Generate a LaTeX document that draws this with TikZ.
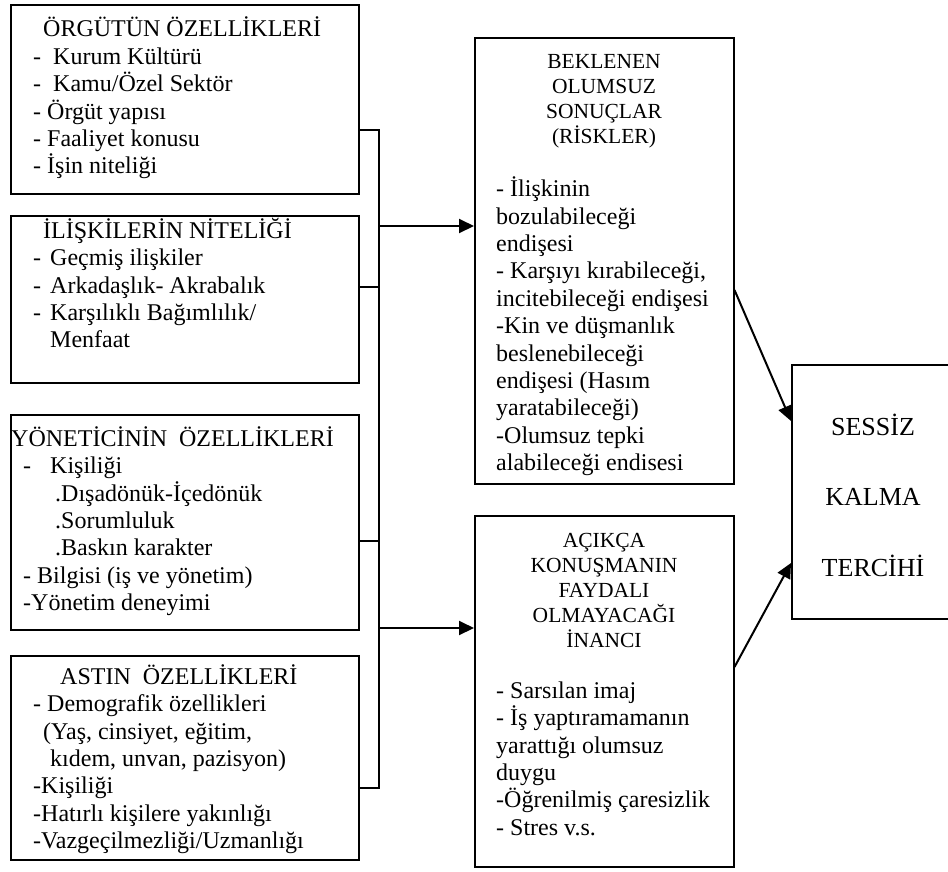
\documentclass[tikz,border=0pt]{standalone}
\usepackage{fontspec}
\setmainfont{Liberation Serif}
\usetikzlibrary{arrows.meta}
\newcommand\mystrut[1]{\rule{0pt}{#1pt}}
\begin{document}
\begin{tikzpicture}[x=1pt,y=-1pt,
  box/.style={draw, line width=1.5pt, inner sep=0pt, anchor=north west},
  conn/.style={line width=2pt},
  arr/.style={line width=2pt, -{Triangle[length=15pt,width=14pt]}},
  txt/.style={inner sep=0pt, anchor=north west, align=left, font=\fontsize{24}{27.4}\selectfont},
  hdr/.style={inner sep=0pt, anchor=north, align=center, font=\fontsize{21.5}{25}\selectfont},
  big/.style={inner sep=0pt, anchor=north, align=center, font=\fontsize{26}{70.5}\selectfont}]
\fill[white] (0,0) rectangle (948,871);
\useasboundingbox (0,0) rectangle (948,871);

% boxes
\node[box, minimum width=348pt, minimum height=189pt] (b1) at (10,4) {};
\node[box, minimum width=348pt, minimum height=167pt] (b2) at (10,215) {};
\node[box, minimum width=348pt, minimum height=215pt] (b3) at (10,414) {};
\node[box, minimum width=348pt, minimum height=204pt] (b4) at (10,655) {};
\node[box, minimum width=259pt, minimum height=446pt] (b5) at (474,37) {};
\node[box, minimum width=259pt, minimum height=351pt] (b6) at (474,515) {};
\node[box, minimum width=164pt, minimum height=254pt] (b7) at (791,364) {};

% texts
\node[txt] (t1) at (33,14.7) {\mystrut{22}\hspace*{10pt}ÖRGÜTÜN ÖZELLİKLERİ\\
-\hspace{12pt}Kurum Kültürü\\
-\hspace{12pt}Kamu/Özel Sektör\\
- Örgüt yapısı\\
- Faaliyet konusu\\
- İşin niteliği};

\node[txt] (t2) at (33,216) {\mystrut{22}\hspace*{10pt}İLİŞKİLERİN NİTELİĞİ\\
-\hspace{9pt}Geçmiş ilişkiler\\
-\hspace{9pt}Arkadaşlık- Akrabalık\\
-\hspace{9pt}Karşılıklı Bağımlılık/\\
\hspace*{17pt}Menfaat};

\node[txt] (t3) at (11,424) {\mystrut{22}YÖNETİCİNİN\ \ ÖZELLİKLERİ\\
\hspace*{12pt}-\hspace{19pt}Kişiliği\\
\hspace*{44pt}.Dışadönük-İçedönük\\
\hspace*{44pt}.Sorumluluk\\
\hspace*{44pt}.Baskın karakter\\
\hspace*{12pt}- Bilgisi (iş ve yönetim)\\
\hspace*{12pt}-Yönetim deneyimi};

\node[txt] (t4) at (33,662) {\mystrut{22}\hspace*{27pt}ASTIN\ \ ÖZELLİKLERİ\\
- Demografik özellikleri\\
\hspace*{10pt}(Yaş, cinsiyet, eğitim,\\
\hspace*{17pt}kıdem, unvan, pazisyon)\\
-Kişiliği\\
-Hatırlı kişilere yakınlığı\\
-Vazgeçilmezliği/Uzmanlığı};

\node[hdr] (h5) at (604,48) {\mystrut{20}BEKLENEN\\OLUMSUZ\\SONUÇLAR\\(RİSKLER)};
\node[txt] (t5) at (496,174.5) {\mystrut{22}- İlişkinin\\
bozulabileceği\\
endişesi\\
- Karşıyı kırabileceği,\\
incitebileceği endişesi\\
-Kin ve düşmanlık\\
beslenebileceği\\
endişesi (Hasım\\
yaratabileceği)\\
-Olumsuz tepki\\
alabileceği endisesi};

\node[hdr] (h6) at (604,527) {\mystrut{20}AÇIKÇA\\KONUŞMANIN\\FAYDALI\\OLMAYACAĞI\\İNANCI};
\node[txt] (t6) at (496,676) {\mystrut{22}- Sarsılan imaj\\
- İş yaptıramamanın\\
yarattığı olumsuz\\
duygu\\
-Öğrenilmiş çaresizlik\\
- Stres v.s.};

\node[big] (t7) at (873,411) {\mystrut{24}SESSİZ\\KALMA\\TERCİHİ};

% junction coordinates
\coordinate (j1) at (378.5,130);
\coordinate (j2) at (378.5,287);
\coordinate (j3) at (378.5,541);
\coordinate (j4) at (378.5,788);
\coordinate (a5) at (378.5,226);
\coordinate (a6) at (378.5,628);
\coordinate (p5) at (0,290);
\coordinate (q7) at (0,421);
\coordinate (p6) at (0,667);
\coordinate (r7) at (0,563);

% connectors
\draw[conn] (j1 -| b1.east) -- (j1) -- (j4) -- (j4 -| b4.east);
\draw[conn] (j2 -| b2.east) -- (j2);
\draw[conn] (j3 -| b3.east) -- (j3);
\draw[arr] (a5) -- (a5 -| b5.west);
\draw[arr] (a6) -- (a6 -| b6.west);
\draw[arr] (p5 -| b5.east) -- (q7 -| b7.west);
\draw[arr] (p6 -| b6.east) -- (r7 -| b7.west);
\end{tikzpicture}
\end{document}
